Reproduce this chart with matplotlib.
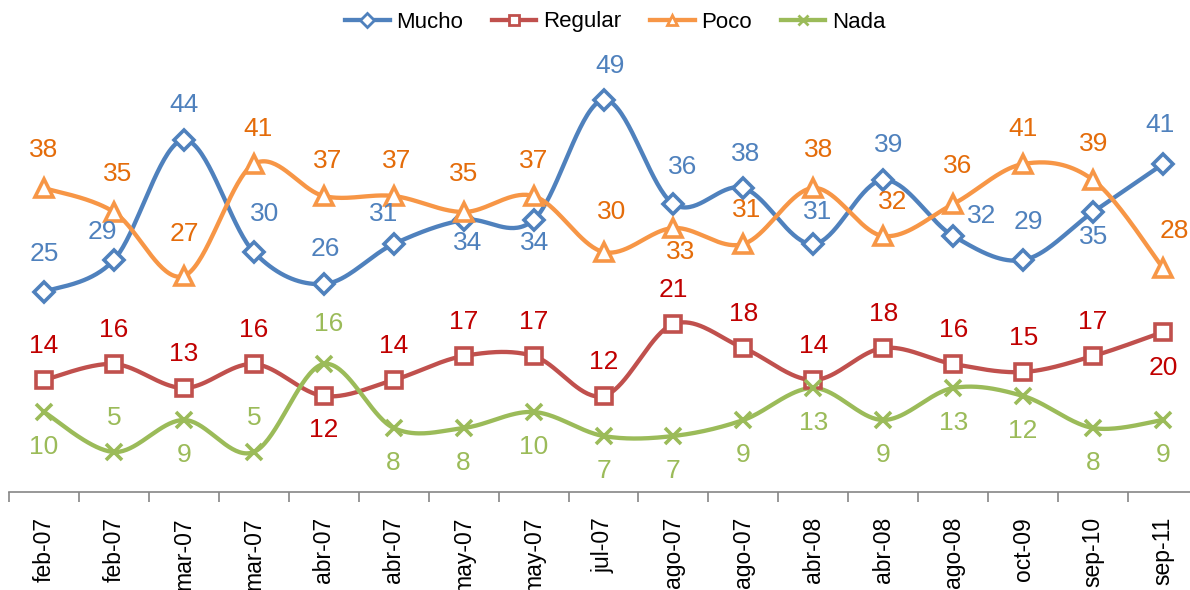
import numpy as np
import matplotlib
matplotlib.use('Agg')
import matplotlib.pyplot as plt

plt.rcParams['font.family'] = ['Liberation Sans', 'DejaVu Sans']

categories = ['feb-07', 'feb-07', 'mar-07', 'mar-07', 'abr-07', 'abr-07', 'may-07', 'may-07',
              'jul-07', 'ago-07', 'ago-07', 'abr-08', 'abr-08', 'ago-08', 'oct-09', 'sep-10', 'sep-11']
mucho = [25, 29, 44, 30, 26, 31, 34, 34, 49, 36, 38, 31, 39, 32, 29, 35, 41]
regular = [14, 16, 13, 16, 12, 14, 17, 17, 12, 21, 18, 14, 18, 16, 15, 17, 20]
poco = [38, 35, 27, 41, 37, 37, 35, 37, 30, 33, 31, 38, 32, 36, 41, 39, 28]
nada = [10, 5, 9, 5, 16, 8, 8, 10, 7, 7, 9, 13, 9, 13, 12, 8, 9]

# label offsets (pixels) - styling only
off_mucho = [(0, 38), (-12, 28), (0, 35), (11, 38), (2, 35), (-10, 30), (4, -23), (1, -23), (7, 34),
             (9, 37), (2, 34), (4, 32), (5, 35), (28, 20), (5, 38), (1, -25), (-3, 39)]
off_poco = [(0, 38), (4, 38), (1, 42), (4, 35), (4, 35), (3, 35), (0, 38), (0, 35), (8, 40),
            (7, -24), (3, 34), (5, 38), (9, 34), (4, 38), (0, 35), (1, 36), (11, 37)]
off_regular = [(0, 34)] * 17
off_regular[4] = (0, -34)
off_regular[16] = (0, -36)
off_nada = [(0, -35)] * 17
off_nada[1] = (0, 34)
off_nada[3] = (0, 34)
off_nada[4] = (5, 40)


def smooth(y, n=40):
    y = np.asarray(y, float)
    x = np.arange(len(y), dtype=float)
    P = np.column_stack([x, y])
    Pe = np.vstack([P[0], P, P[-1]])
    out = []
    t = np.linspace(0, 1, n)[:, None]
    for i in range(len(P) - 1):
        p0, p1, p2, p3 = Pe[i], Pe[i + 1], Pe[i + 2], Pe[i + 3]
        c1 = p1 + (p2 - p0) / 6
        c2 = p2 - (p3 - p1) / 6
        seg = (1 - t) ** 3 * p1 + 3 * (1 - t) ** 2 * t * c1 + 3 * (1 - t) * t ** 2 * c2 + t ** 3 * p2
        out.append(seg if i == 0 else seg[1:])
    s = np.vstack(out)
    return s[:, 0], s[:, 1]


fig = plt.figure(figsize=(11.9, 5.9), dpi=100)
ax = fig.add_axes([9 / 1190, 98 / 590, 1189 / 1190, 480 / 590])

series = [
    ('Mucho', mucho, '#4F81BD', '#4F81BD', 'D', 10.5, off_mucho),
    ('Regular', regular, '#C0504D', '#C00000', 's', 11.5, off_regular),
    ('Poco', poco, '#F79646', '#E46C0A', '^', 12.5, off_poco),
    ('Nada', nada, '#9BBB59', '#9BBB59', 'x', 11.5, off_nada),
]

x = np.arange(len(categories))
handles = []
for name, vals, col, lcol, mk, ms, offs in series:
    sx, sy = smooth(vals)
    ax.plot(sx, sy, color=col, lw=3.1, solid_capstyle='round', zorder=2)
    ax.plot(x, vals, linestyle='none', marker=mk, ms=ms,
            mfc='white' if mk != 'x' else col, mec=col, mew=2.6, zorder=3)
    h, = ax.plot([], [], color=col, lw=3.1, marker=mk, ms=7,
                 mfc='white' if mk != 'x' else col, mec=col, mew=2)
    handles.append(h)
    for xi, v, (dx, dy) in zip(x, vals, offs):
        ax.annotate(str(v), (xi, v), xytext=(dx, dy), textcoords='offset pixels',
                    ha='center', va='center', fontsize=19, color=lcol, zorder=4)

ax.set_xlim(-0.5, len(categories) - 0.5)
ax.set_ylim(0, 60)
for s in ['left', 'right', 'top']:
    ax.spines[s].set_visible(False)
ax.spines['bottom'].set_color('#868686')
ax.spines['bottom'].set_linewidth(1.2)
ax.set_yticks([])
ax.set_xticks(x)
ax.set_xticklabels(categories, rotation=90, fontsize=16.5)
ax.set_xticks(np.arange(-0.5, len(categories), 1), minor=True)
ax.tick_params(axis='x', which='major', length=0, pad=18)
ax.tick_params(axis='x', which='minor', length=7, width=1.2, color='#868686', direction='out')

fig.legend(handles, [s[0] for s in series], loc='center', bbox_to_anchor=(0.517, 1 - 22 / 590),
           ncol=4, frameon=False, fontsize=16, handlelength=2.0, columnspacing=1.3,
           handletextpad=0.3)

fig.savefig('out.png', dpi=100)
